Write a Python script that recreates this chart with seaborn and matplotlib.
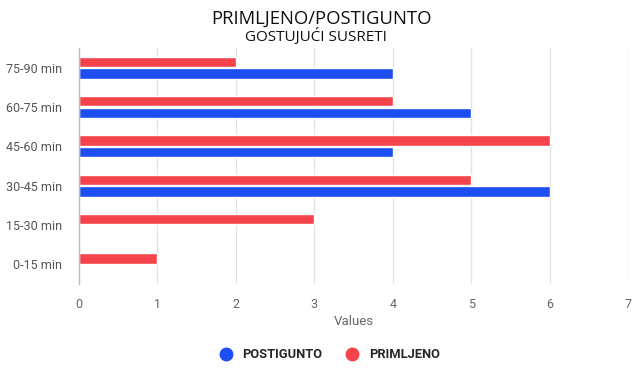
import pandas as pd
import seaborn as sns
import matplotlib.pyplot as plt
from matplotlib.lines import Line2D

# data (top to bottom)
periods = ['75-90 min', '60-75 min', '45-60 min', '30-45 min', '15-30 min', '0-15 min']
primljeno = [2, 4, 6, 5, 3, 1]
postignuto = [4, 5, 4, 6, 0, 0]
x_ticks = [0, 1, 2, 3, 4, 5, 6, 7]

blue = '#1D4EF2'
red = '#F4434B'

df = pd.DataFrame({
    'period': periods * 2,
    'value': primljeno + postignuto,
    'series': ['PRIMLJENO'] * len(periods) + ['POSTIGUNTO'] * len(periods),
})

sns.set_theme(style='white')
plt.rcParams['font.family'] = ['Roboto', 'DejaVu Sans']

fig = plt.figure(figsize=(6.4, 3.85), dpi=100)
ax = fig.add_axes([0.1234, 0.2623, 0.858, 0.613])

sns.barplot(data=df, x='value', y='period', hue='series', order=periods,
            hue_order=['PRIMLJENO', 'POSTIGUNTO'],
            palette={'PRIMLJENO': red, 'POSTIGUNTO': blue},
            orient='h', width=0.6, gap=0.13, saturation=1, legend=False, ax=ax)

ax.set_xlim(0, 7)
ax.set_ylim(5.5, -0.5)
ax.set_xticks(x_ticks)
ax.grid(axis='x', color='#E3E3E3', linewidth=0.9)
ax.set_axisbelow(True)
for s in ['top', 'right', 'bottom']:
    ax.spines[s].set_visible(False)
ax.spines['left'].set_color('#BDBDBD')
ax.spines['left'].set_linewidth(1)
ax.tick_params(axis='x', length=5, color='#E3E3E3', labelsize=9, labelcolor='#666666', pad=5)
ax.tick_params(axis='y', length=0, labelsize=9, labelcolor='#555555', pad=12)
ax.set_xlabel('Values', fontsize=9.5, color='#666666', labelpad=3)
ax.set_ylabel('')

fig.text(0.502, 0.951, 'PRIMLJENO/POSTIGUNTO', ha='center', va='center',
         fontsize=13.3, color='#111111', family=['Open Sans', 'DejaVu Sans'])
fig.text(0.494, 0.904, 'GOSTUJUĆI SUSRETI', ha='center', va='center',
         fontsize=11, color='#111111', family=['Open Sans', 'DejaVu Sans'])

handles = [Line2D([], [], marker='o', linestyle='', markersize=9, color=blue),
           Line2D([], [], marker='o', linestyle='', markersize=9, color=red)]
fig.legend(handles, ['POSTIGUNTO', 'PRIMLJENO'], loc='center', ncol=2,
           bbox_to_anchor=(0.51, 0.078), frameon=False, handletextpad=0.3,
           columnspacing=1.3, prop={'family': 'Roboto', 'weight': 'bold', 'size': 9.3})

fig.savefig('out.png', dpi=100)
